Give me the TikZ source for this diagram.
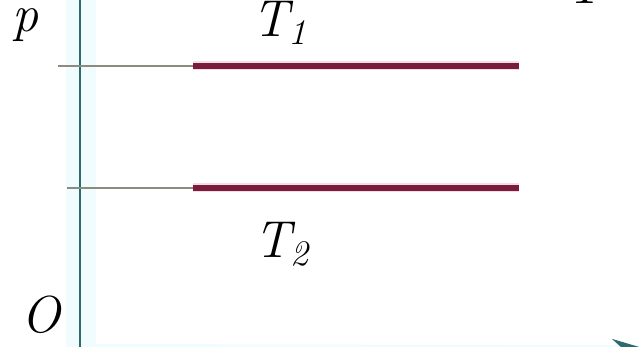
\documentclass[tikz,border=0pt]{standalone}
\usepackage{fontspec}
\usetikzlibrary{arrows.meta}
\definecolor{axisteal}{HTML}{2E6B6E}
\definecolor{halo}{HTML}{F0FCFD}
\definecolor{isored}{HTML}{7A1C3C}
\definecolor{isohalo}{HTML}{F6DCE4}
\definecolor{thin}{HTML}{8C8C7E}
\tikzset{
  lbl/.style={inner sep=0pt, font=\fontsize{52}{52}\selectfont\itshape},
  iso/.style={draw=isored, line width=5.5pt},
  isoglow/.style={draw=isohalo, line width=9pt},
  guide/.style={draw=thin, line width=1.8pt},
  axis/.style={draw=axisteal, line width=2.6pt},
}
\newcommand{\subsc}[1]{\raisebox{-8pt}{\fontsize{36}{36}\selectfont #1}}
\begin{document}
\begin{tikzpicture}[x=1pt,y=-1pt]
\useasboundingbox (0,0) rectangle (639,347);
% coordinates
\coordinate (ytop) at (80,-5);
\coordinate (orig) at (80,348);
\coordinate (xend) at (646,349);
\coordinate (g1) at (58,66);
\coordinate (s1) at (193,66);
\coordinate (e1) at (519,66);
\coordinate (g2) at (67,188);
\coordinate (s2) at (193,188);
\coordinate (e2) at (519,188);
% halos
\fill[halo] (66,0) rectangle (96,347);
\draw[draw=halo, line width=8pt] (orig) -- (xend);
% axes
\draw[axis] (orig) -- (ytop);
\draw[draw=cyan!12, line width=2pt, -{Stealth[length=34pt,width=20pt,color=axisteal]}] (orig) -- (xend);
% isotherms
\draw[isoglow] (s1) -- (e1);
\draw[isoglow] (s2) -- (e2);
\draw[guide] (g1) -- (s1);
\draw[guide] (g2) -- (s2);
\draw[iso] (s1) -- (e1);
\draw[iso] (s2) -- (e2);
% labels
\node[lbl, anchor=base west] (p) at (12,32) {p};
\node[lbl, anchor=base west] (o) at (21,332) {O};
\node[lbl, anchor=base west] (t1) at (252,37) {T\subsc{1}};
\node[lbl, anchor=base west] (t2) at (254,258) {T\subsc{2}};
\node[lbl, anchor=base west] (tcut) at (566,4) {T};
\end{tikzpicture}
\end{document}
